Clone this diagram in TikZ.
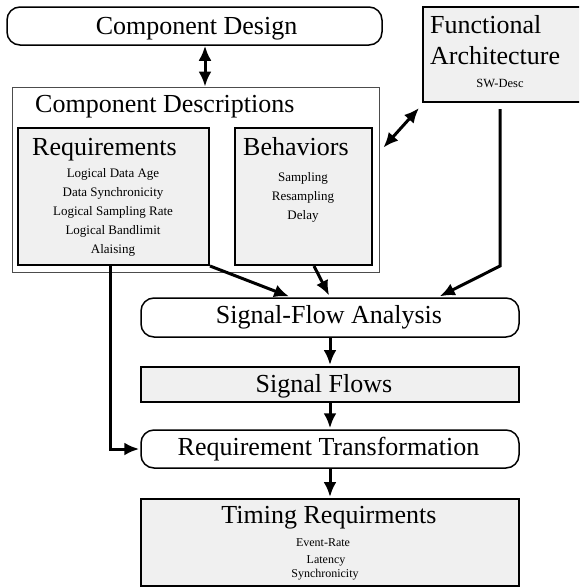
\documentclass[tikz,border=0pt]{standalone}
\usepackage{fontspec}
\setmainfont{Liberation Serif}
\newfontfamily\serifbig{Liberation Serif}
\usetikzlibrary{arrows.meta}
\definecolor{boxgray}{RGB}{240,240,240}
\begin{document}
\begin{tikzpicture}[x=1pt,y=-1pt,
  big/.style={font=\serifbig\fontsize{26}{28}\selectfont, inner sep=0pt},
  small/.style={font=\serifbig\fontsize{13}{15}\selectfont, inner sep=0pt},
  tiny/.style={font=\serifbig\fontsize{12}{14}\selectfont, inner sep=0pt},
  roundbox/.style={draw, line width=1.5pt, rounded corners=13pt, inner sep=0pt},
  graybox/.style={draw, line width=2pt, fill=boxgray, inner sep=0pt},
  outerbox/.style={draw=gray!60!black, line width=0.8pt, inner sep=0pt},
  arr/.style={line width=3pt, -{Latex[length=15pt,width=13pt]}},
  darr/.style={line width=3pt, {Latex[length=15pt,width=13pt]}-{Latex[length=15pt,width=13pt]}},
]
\useasboundingbox (0,0) rectangle (579,587);
\clip (0,0) rectangle (579,587);

% Component Design
\node[roundbox, minimum width=375pt, minimum height=38pt] (cd) at (194.5,26) {};
\node[big, anchor=base] (cdtext) at (196.5,34) {Component Design};

% Functional Architecture
\node[graybox, minimum width=159pt, minimum height=95pt] (fa) at (502.5,54.5) {};
\node[big, anchor=base west] (fa1) at (430,33) {Functional};
\node[big, anchor=base west] (fa2) at (430,64) {Architecture};
\node[tiny, font=\serifbig\fontsize{12.5}{14}\selectfont, anchor=base] (fa3) at (500,87) {SW-Desc};

% Component Descriptions
\node[outerbox, minimum width=367pt, minimum height=185pt] (desc) at (195.5,179.5) {};
\node[big, anchor=base west] (desctext) at (35,112) {Component Descriptions};

% Requirements
\node[graybox, minimum width=191pt, minimum height=137pt] (req) at (113.5,196.5) {};
\node[big, anchor=base west] (reqtext) at (32,155) {Requirements};
\node[small, anchor=base] (r1) at (113,177.5) {Logical Data Age};
\node[small, anchor=base] (r2) at (113,196.5) {Data Synchronicity};
\node[small, anchor=base] (r3) at (113,215.5) {Logical Sampling Rate};
\node[small, anchor=base] (r4) at (113,234.5) {Logical Bandlimit};
\node[small, anchor=base] (r5) at (113,253.5) {Alaising};

% Behaviors
\node[graybox, minimum width=137pt, minimum height=137pt] (beh) at (303.5,196.5) {};
\node[big, anchor=base west] (behtext) at (243,155) {Behaviors};
\node[small, anchor=base] (b1) at (303,181) {Sampling};
\node[small, anchor=base] (b2) at (303,200) {Resampling};
\node[small, anchor=base] (b3) at (303,219) {Delay};

% Signal-Flow Analysis
\node[roundbox, minimum width=378pt, minimum height=39pt] (sfa) at (330,317.5) {};
\node[big, anchor=base] (sfatext) at (329,323) {Signal-Flow Analysis};

% Signal Flows
\node[graybox, minimum width=378pt, minimum height=35pt] (sf) at (330,384.5) {};
\node[big, anchor=base] (sftext) at (324,392) {Signal Flows};

% Requirement Transformation
\node[roundbox, minimum width=378pt, minimum height=38pt] (rt) at (330,449) {};
\node[big, anchor=base] (rttext) at (328.5,455) {Requirement Transformation};

% Timing Requirments
\node[graybox, minimum width=378pt, minimum height=87pt] (tr) at (330,542.5) {};
\node[big, anchor=base] (trtext) at (329,523) {Timing Requirments};
\node[tiny, anchor=base] (t1) at (323,546) {Event-Rate};
\node[tiny, anchor=base] (t2) at (326,563) {Latency};
\node[tiny, anchor=base] (t3) at (325,577) {Synchronicity};

% Connectors
\draw[darr] ([xshift=10.5pt]cd.south) -- ([xshift=9.5pt]desc.north);
\draw[darr] ([xshift=-3pt,yshift=-5pt]fa.south west) -- ([xshift=4pt,yshift=-61pt]desc.north east);
\draw[arr, shorten >=2pt] ([xshift=-2.5pt,yshift=-6pt]fa.south) -- ++(0,157) -- ([xshift=108pt]sfa.north);
\draw[arr, shorten >=2pt] (req.south east) -- ([xshift=-39pt]sfa.north);
\draw[arr, shorten >=2pt] ([xshift=10.5pt]beh.south) -- (sfa.north);
\draw[arr, shorten >=1pt] ([xshift=-3.5pt]req.south) |- (rt.west);
\draw[arr, shorten >=1pt] (sfa.south) -- (sf.north);
\draw[arr, shorten >=1pt] (sf.south) -- (rt.north);
\draw[arr, shorten >=1pt] (rt.south) -- (tr.north);
\end{tikzpicture}
\end{document}
